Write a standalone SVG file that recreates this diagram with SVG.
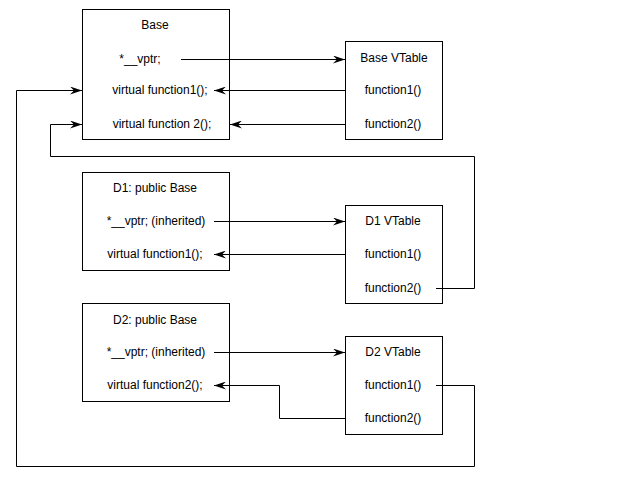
<svg xmlns="http://www.w3.org/2000/svg" width="640" height="483" viewBox="0 0 640 483">
<style>
rect{fill:#fff;stroke:#000;stroke-width:1}
text{font-family:"Liberation Sans",Arial,sans-serif;font-size:12px;text-anchor:middle;fill:#000}
.c{fill:none;stroke:#000;stroke-width:1;marker-end:url(#a)}
.n{fill:none;stroke:#000;stroke-width:1}
</style>
<defs><marker id="a" markerWidth="12" markerHeight="8" refX="12" refY="4" orient="auto" markerUnits="userSpaceOnUse"><path d="M0,0 L12,4 L0,8 L4,4 Z" fill="#000"/></marker></defs>
<rect x="0" y="0" width="640" height="483" style="stroke:none"/>
<g id="base"><rect x="82.5" y="9.5" width="147" height="130"/><text x="155" y="29">Base</text><text x="140" y="63">*__vptr;</text><text x="160" y="94">virtual function1();</text><text x="162" y="128">virtual function 2();</text></g>
<g id="basevt"><rect x="345.5" y="41.5" width="97" height="98"/><text x="394" y="62">Base VTable</text><text x="393" y="94">function1()</text><text x="393" y="128">function2()</text></g>
<g id="d1"><rect x="82.5" y="172.5" width="147" height="98"/><text x="155" y="192">D1: public Base</text><text x="156" y="225">*__vptr; (inherited)</text><text x="155" y="258">virtual function1();</text></g>
<g id="d1vt"><rect x="345.5" y="205.5" width="97" height="98"/><text x="393" y="225">D1 VTable</text><text x="393" y="258">function1()</text><text x="393" y="292">function2()</text></g>
<g id="d2"><rect x="82.5" y="303.5" width="147" height="98"/><text x="155" y="324">D2: public Base</text><text x="156" y="356">*__vptr; (inherited)</text><text x="155" y="389">virtual function2();</text></g>
<g id="d2vt"><rect x="345.5" y="336.5" width="97" height="98"/><text x="393" y="356">D2 VTable</text><text x="393" y="389">function1()</text><text x="393" y="422">function2()</text></g>
<g id="connectors">
<path class="c" d="M181,59.5 H345"/>
<path class="c" d="M345,90.5 H214"/>
<path class="c" d="M345,124.5 H230"/>
<path class="c" d="M214,221.5 H345"/>
<path class="c" d="M345,254.5 H214"/>
<path class="c" d="M214,352.5 H345"/>
<path class="c" d="M345,418.5 H279.5 V385.5 H214"/>
<path class="c" d="M436,288.5 H474.5 V156.5 H50.5 V124.5 H82"/>
<path class="c" d="M436,385.5 H474.5 V466.5 H16.5 V90.5 H82"/>
</g>
</svg>
